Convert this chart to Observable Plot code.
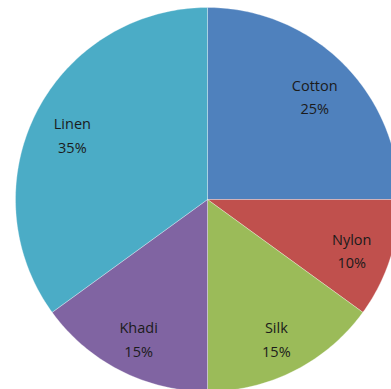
<!DOCTYPE html>
<html>
<head>
<meta charset="utf-8">
<script src="https://cdn.jsdelivr.net/npm/d3@7"></script>
<script src="https://cdn.jsdelivr.net/npm/@observablehq/plot@0.6"></script>
<style>
  html, body { margin: 0; padding: 0; background: #fff; }
  svg { display: block; }
</style>
</head>
<body>
<div id="chart"></div>
<script>
const categories = ["Cotton", "Nylon", "Silk", "Khadi", "Linen"];
const values = [25, 10, 15, 15, 35];
const colors = ["#4F81BD", "#C0504D", "#9BBB59", "#8064A2", "#4BACC6"];

const W = 391, H = 389;
const cx = 207, cy = 199, Rpx = 192;

const pie = d3.pie().sort(null).value(d => d.value).startAngle(0).endAngle(2 * Math.PI);
const arcs = pie(categories.map((name, i) => ({name, value: values[i]})));

// outline points of each slice (center + arc samples)
const slicePts = [];
arcs.forEach(a => {
  const name = a.data.name;
  slicePts.push({name, x: 0, y: 0});
  const n = Math.max(2, Math.ceil((a.endAngle - a.startAngle) / (Math.PI / 180)));
  for (let k = 0; k <= n; k++) {
    const t = a.startAngle + (a.endAngle - a.startAngle) * k / n;
    slicePts.push({name, x: Math.sin(t), y: Math.cos(t)});
  }
  slicePts.push({name, x: 0, y: 0});
});

const labels = arcs.map(a => {
  const m = (a.startAngle + a.endAngle) / 2;
  return {name: a.data.name, text: `${a.data.name}\n${a.data.value}%`, x: 0.79 * Math.sin(m), y: 0.79 * Math.cos(m)};
});

const chart = Plot.plot({
  width: W,
  height: H,
  margin: 0,
  x: {domain: [-cx / Rpx, (W - cx) / Rpx], axis: null},
  y: {domain: [-(H - cy) / Rpx, cy / Rpx], axis: null},
  color: {domain: categories, range: colors},
  style: {background: "#fff", fontFamily: "'Open Sans', sans-serif"},
  marks: [
    Plot.line(slicePts, {x: "x", y: "y", z: "name", fill: "name", stroke: "white", strokeWidth: 1, strokeOpacity: 0.3, curve: "linear-closed", clip: true}),
    Plot.text(labels, {x: "x", y: "y", dy: 3, text: "text", fontSize: 14.5, fill: "#1b1b1b", lineHeight: 1.6, textAnchor: "middle"})
  ]
});
document.getElementById("chart").append(chart);
</script>
</body>
</html>
